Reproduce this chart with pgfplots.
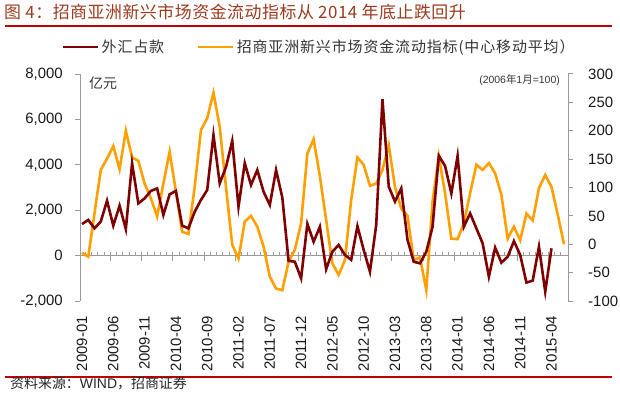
\documentclass[border=0pt]{standalone}
\usepackage{fontspec}
\setmainfont{Liberation Sans}
\newfontfamily\cjk{Noto Sans CJK SC}
\newfontfamily\cjksp[LetterSpace=6]{Noto Sans CJK SC}
\newfontfamily\cjkti[LetterSpace=3]{Noto Sans CJK SC}
\usepackage{pgfplots}
\pgfplotsset{compat=1.18}
\usepackage{pgfplotstable}

\definecolor{maroonc}{HTML}{7F0000}
\definecolor{orangec}{HTML}{FF9F00}
\definecolor{axgray}{HTML}{9A9A9A}
\definecolor{titlec}{HTML}{9B3A1E}
\definecolor{rulec}{HTML}{C00000}

\pgfplotstableread{
i v
0 1390
1 1570
2 1200
3 1500
4 2420
5 1320
6 2200
7 1170
8 4070
9 2300
10 2520
11 2850
12 2960
13 1790
14 2700
15 2850
16 1320
17 1200
18 1930
19 2450
20 2890
21 5310
22 3180
23 3900
24 5050
25 2150
26 4070
27 3110
28 3770
29 2820
30 2230
31 3770
32 2560
33 -230
34 -270
35 -1000
36 1400
37 610
38 1270
39 -600
40 170
41 470
42 30
43 -190
44 1300
45 250
46 -710
47 1350
48 6890
49 3040
50 2380
51 2960
52 690
53 -270
54 -340
55 170
56 1270
57 4400
58 3950
59 2740
60 4390
61 1270
62 1860
63 1200
64 540
65 -930
66 350
67 -310
68 -50
69 640
70 30
71 -1190
72 -1100
73 390
74 -1590
75 320
}\fx

\pgfplotstableread{
i v
0 -15
1 -22
2 55
3 131
4 151
5 173
6 132
7 200
8 153
9 147
10 107
11 81
12 49
13 107
14 163
15 93
16 22
17 18
18 101
19 201
20 222
21 267
22 207
23 101
24 -1
25 -25
26 40
27 50
28 31
29 -4
30 -57
31 -78
32 -81
33 -31
34 -10
35 37
36 160
37 185
38 120
39 43
40 -34
41 -54
42 -28
43 78
44 153
45 140
46 103
47 107
48 131
49 175
50 101
51 63
52 50
53 -28
54 -23
55 -81
56 75
57 155
58 90
59 10
60 9
61 37
62 90
63 140
64 131
65 143
66 125
67 87
68 10
69 31
70 7
71 54
72 42
73 99
74 122
75 101
76 52
77 0
}\idx

\begin{document}
\begin{tikzpicture}[x=1bp,y=1bp]
\useasboundingbox (0,0) rectangle (620,392);

% right axis (orange)
\begin{axis}[
  at={(80bp,91bp)}, anchor=south west,
  width=488bp, height=227bp, scale only axis,
  xmin=-0.32, xmax=77.64,
  ymin=-100, ymax=300,
  ytick={-100,-50,...,300},
  axis y line*=right,
  axis x line=none,
  y axis line style={axgray, line width=1bp},
  ytick style={axgray, line width=1bp},
  ytick align=outside,
  major tick length=5bp,
  scaled y ticks=false,
  yticklabel style={font=\fontsize{15}{18}\selectfont, inner sep=0pt, text=black!90},
  yticklabel shift=15bp,
  /pgf/number format/assume math mode=true,
  clip=false,
]
\draw[axgray, line width=1bp] (axis cs:-0.32,-20) -- (axis cs:77.64,-20);
\pgfplotsinvokeforeach{0,...,76}{\draw[axgray, line width=0.8bp] (axis cs:#1.5,-20) -- (axis cs:#1.5,-14.5);}
\pgfplotsinvokeforeach{4,9,...,74}{\draw[axgray, line width=0.8bp] (axis cs:#1.5,-20) -- (axis cs:#1.5,-29);}
\addplot[orangec, line width=2.6bp, no marks] table[x=i, y=v]{\idx};
\end{axis}

% left axis (maroon)
\begin{axis}[
  at={(80bp,91bp)}, anchor=south west,
  width=488bp, height=227bp, scale only axis,
  xmin=-0.32, xmax=77.64,
  ymin=-2000, ymax=8000,
  ytick={-2000,0,...,8000},
  axis y line*=left,
  axis x line*=bottom,
  x axis line style={draw=none},
  xtick style={draw=none},
  y axis line style={axgray, line width=1bp},
  ytick style={axgray, line width=1bp},
  ytick align=outside,
  major tick length=5bp,
  scaled y ticks=false,
  /pgf/number format/1000 sep={,},
  /pgf/number format/assume math mode=true,
  yticklabel style={font=\fontsize{15}{18}\selectfont, inner sep=0pt, text=black!90},
  yticklabel shift=12bp,
  xtick={0,5,...,75},
  xticklabels={2009-01,2009-06,2009-11,2010-04,2010-09,2011-02,2011-07,2011-12,2012-05,2012-10,2013-03,2013-08,2014-01,2014-06,2014-11,2015-04},
  xticklabel style={font=\fontsize{15}{18}\selectfont, rotate=90, anchor=east, inner sep=0pt, text=black!90},
  xticklabel shift=15bp,
  legend columns=2,
  legend cell align=left,
  legend style={at={(-0.037,1.119)}, anchor=west, draw=none, fill=none, inner sep=0pt,
    font=\cjksp\fontsize{15}{18}\selectfont, text=black!80,
    /tikz/every even column/.append style={column sep=31bp}},
  legend image code/.code={\draw[#1] (0bp,0bp) -- (35bp,0bp);},
  clip=false,
]
\addplot[maroonc, line width=2.6bp, no marks] table[x=i, y=v]{\fx};
\addlegendentry{外汇占款}
\addlegendimage{orangec, line width=2.6bp}
\addlegendentry{招商亚洲新兴市场资金流动指标(中心移动平均）}
\end{axis}

\node[anchor=west, inner sep=0pt, font=\cjk\fontsize{14}{16}\selectfont, text=black!80] at (89,309) {亿元};
\node[anchor=east, inner sep=0pt, font=\fontsize{10.5}{12}\selectfont, text=black!80] at (560,312) {(2006{\cjk 年}1{\cjk 月}=100)};

\node[anchor=west, text=titlec, font=\cjkti\fontsize{17}{20}\selectfont, inner sep=0pt] at (4,380) {图 4：招商亚洲新兴市场资金流动指标从 2014 年底止跌回升};
\draw[rulec, line width=1.2bp] (5,366) -- (612,366);
\draw[rulec, line width=1.2bp] (5,15) -- (612,15);
\node[anchor=west, font=\cjk\fontsize{14}{16}\selectfont, inner sep=0pt, text=black!85] at (10,9) {资料来源：{\rmfamily WIND}，招商证券};
\end{tikzpicture}
\end{document}
